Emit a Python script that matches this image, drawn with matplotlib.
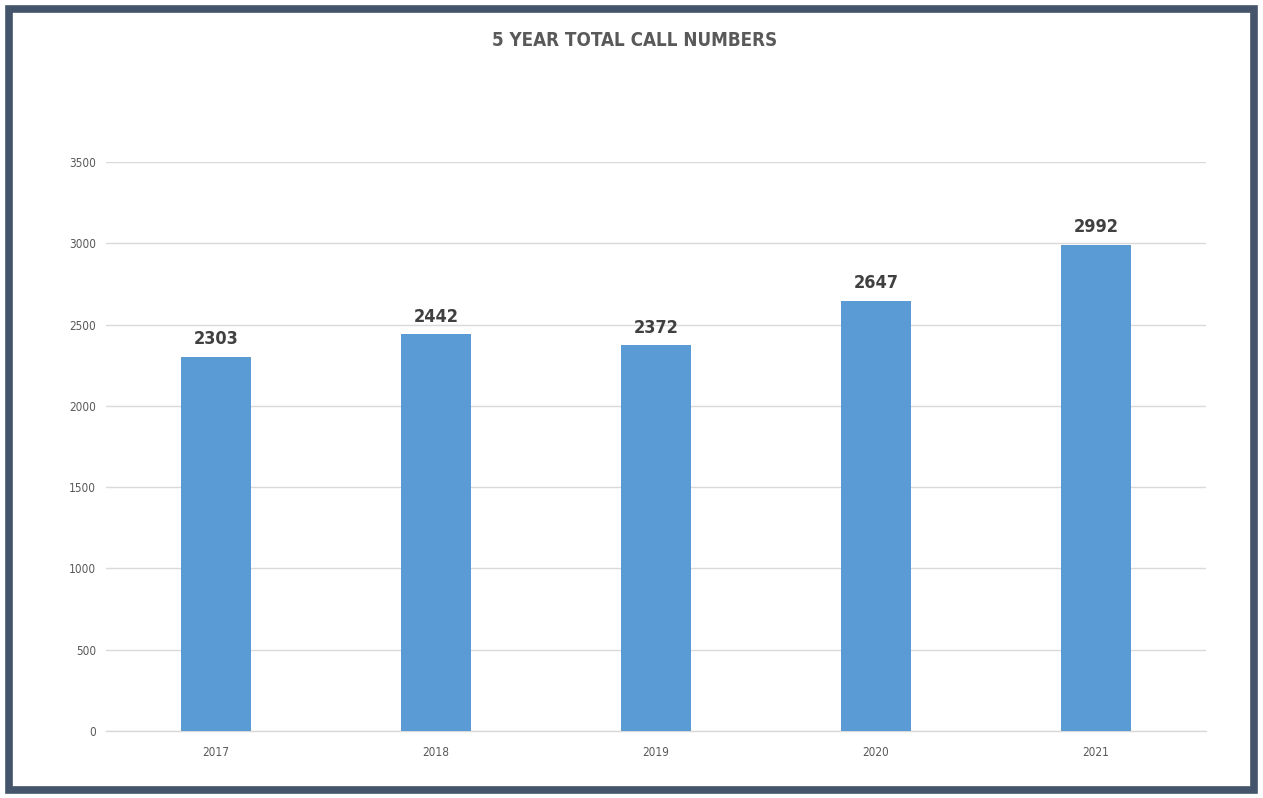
import matplotlib
matplotlib.use("Agg")
import matplotlib.pyplot as plt
from matplotlib.patches import Rectangle

years = ["2017", "2018", "2019", "2020", "2021"]
calls = [2303, 2442, 2372, 2647, 2992]
yticks = [0, 500, 1000, 1500, 2000, 2500, 3000, 3500]
title = "5 YEAR TOTAL CALL NUMBERS"

narrow = ["DejaVu Sans"]

fig = plt.figure(figsize=(12.63, 7.98), dpi=100)
fig.patch.set_facecolor("white")
ax = fig.add_axes([106/1263, 1-731/798, 1100/1263, 569/798])

x = list(range(len(years)))
bars = ax.bar(x, calls, width=0.32, color="#5B9BD5", zorder=3)
for xi, v in zip(x, calls):
    ax.annotate(str(v), (xi, v), xytext=(0, 6), textcoords="offset points",
                ha="center", va="bottom", fontsize=13, fontweight="heavy",
                color="#404040", family=narrow, fontstretch="condensed")

ax.set_xlim(-0.5, len(years)-0.5)
ax.set_ylim(0, 3500)
ax.set_yticks(yticks)
ax.set_yticklabels([str(t) for t in yticks], family=narrow, fontsize=8.5,
                   color="#595959", fontstretch="condensed")
ax.set_xticks(x)
ax.set_xticklabels(years, family=narrow, fontsize=8.5, color="#595959",
                   fontstretch="condensed")
ax.tick_params(axis="both", length=0)
ax.tick_params(axis="y", pad=7)
ax.tick_params(axis="x", pad=10.5)
ax.grid(axis="y", color="#D9D9D9", linewidth=1, zorder=0)
for s in ["top", "right", "left"]:
    ax.spines[s].set_visible(False)
ax.spines["bottom"].set_color("#D9D9D9")
ax.spines["bottom"].set_linewidth(1)

fig.text(635/1263, 1-40/798, title, ha="center", va="center", fontsize=13.5,
         fontweight="heavy", color="#595959", family=narrow, fontstretch="condensed")

fig.patches.append(Rectangle((9/1263, 8/798), 1245/1263, 781/798,
                             transform=fig.transFigure, fill=False,
                             edgecolor="#44546A", linewidth=5.5, zorder=10))

fig.savefig("out.png", dpi=100)
